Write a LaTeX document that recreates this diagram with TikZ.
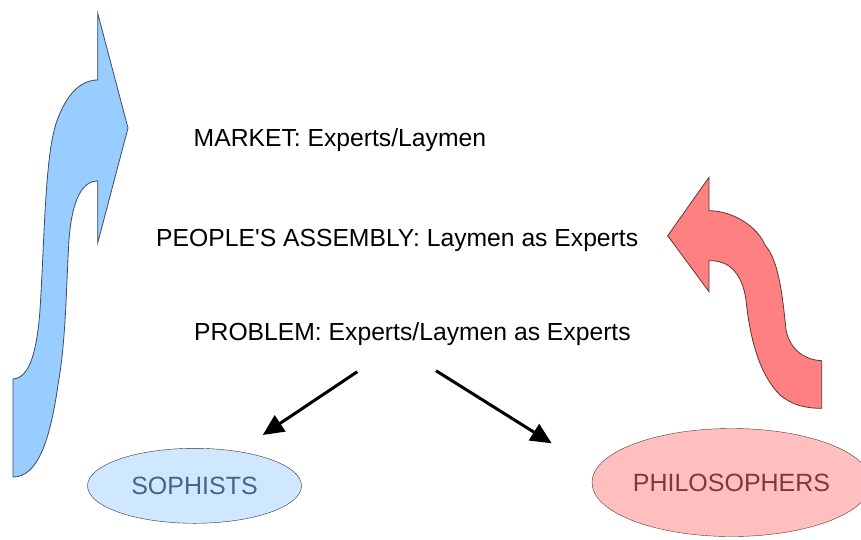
\documentclass[tikz,border=0pt]{standalone}
\usepackage{fontspec}
\setmainfont{Liberation Sans}
\usetikzlibrary{arrows.meta,shapes.geometric}
\definecolor{bluefill}{HTML}{99CCFF}
\definecolor{bluedraw}{HTML}{3C4C60}
\definecolor{redfill}{HTML}{FF8080}
\definecolor{reddraw}{HTML}{5A3838}
\definecolor{sophfill}{HTML}{CFE7FF}
\definecolor{sophtext}{HTML}{4A6282}
\definecolor{philfill}{HTML}{FFBFBF}
\definecolor{philtext}{HTML}{80393B}
\begin{document}
\begin{tikzpicture}[x=1pt,y=-1pt,
  label/.style={anchor=base west,font=\fontsize{24.7}{29}\selectfont,inner sep=0pt},
  oval/.style={ellipse,inner sep=0pt,font=\fontsize{25}{29}\selectfont},
  pointer/.style={line width=3pt,-{Triangle[length=21pt,width=19pt]}},
  bigarrow/.style={line width=0.8pt,line join=miter}]
\useasboundingbox (0,0) rectangle (861,539);
\fill[white] (0,0) rectangle (861,539);
% blue arrow
\draw[bigarrow,fill=bluefill,draw=bluedraw]
  (97.7,13.3) -- (128,128) -- (97.7,243) -- (97.7,181)
  .. controls (82,181) and (72,200) .. (69,240)
  .. controls (66,290) and (66,340) .. (58,385)
  .. controls (50,440) and (38,477) .. (13,477)
  -- (13,379)
  .. controls (30,378) and (37,350) .. (40,310)
  .. controls (45,230) and (45,150) .. (58,118)
  .. controls (68,92) and (82,80) .. (97.7,80) -- cycle;
% red arrow
\draw[bigarrow,fill=redfill,draw=reddraw]
  (709,177.3) -- (667.7,235.7) -- (709,291.7) -- (709,260.7)
  .. controls (728,260) and (742,272) .. (746,300)
  .. controls (750,340) and (760,375) .. (780,395)
  .. controls (792,405) and (805,408.3) .. (821.7,408.3)
  -- (821.7,360.7)
  .. controls (805,360) and (790,350) .. (786,330)
  .. controls (782,290) and (778,260) .. (765,245)
  .. controls (758,228) and (735,211) .. (709,210.7) -- cycle;
% texts
\node[label] (market) at (193.5,146.7) {MARKET: Experts/Laymen};
\node[label] (assembly) at (156,246.7) {PEOPLE\textquotesingle S ASSEMBLY: Laymen as Experts};
\node[label] (problem) at (194,340.7) {PROBLEM: Experts/Laymen as Experts};
% ellipses
\node[oval,draw=black!80,fill=sophfill,text=sophtext,minimum width=214pt,minimum height=75pt] (soph) at (194.5,485.8) {SOPHISTS};
\node[oval,draw=reddraw,fill=philfill,text=philtext,minimum width=258pt,minimum height=108pt] (phil) at (731.5,482.5) {PHILOSOPHERS};
% arrows
\coordinate (s1) at (357.3,371.7);
\coordinate (t1) at (262.7,435);
\coordinate (s2) at (436,370.7);
\coordinate (t2) at (551.7,443.3);
\draw[pointer] (s1) -- (t1);
\draw[pointer] (s2) -- (t2);
\end{tikzpicture}
\end{document}
